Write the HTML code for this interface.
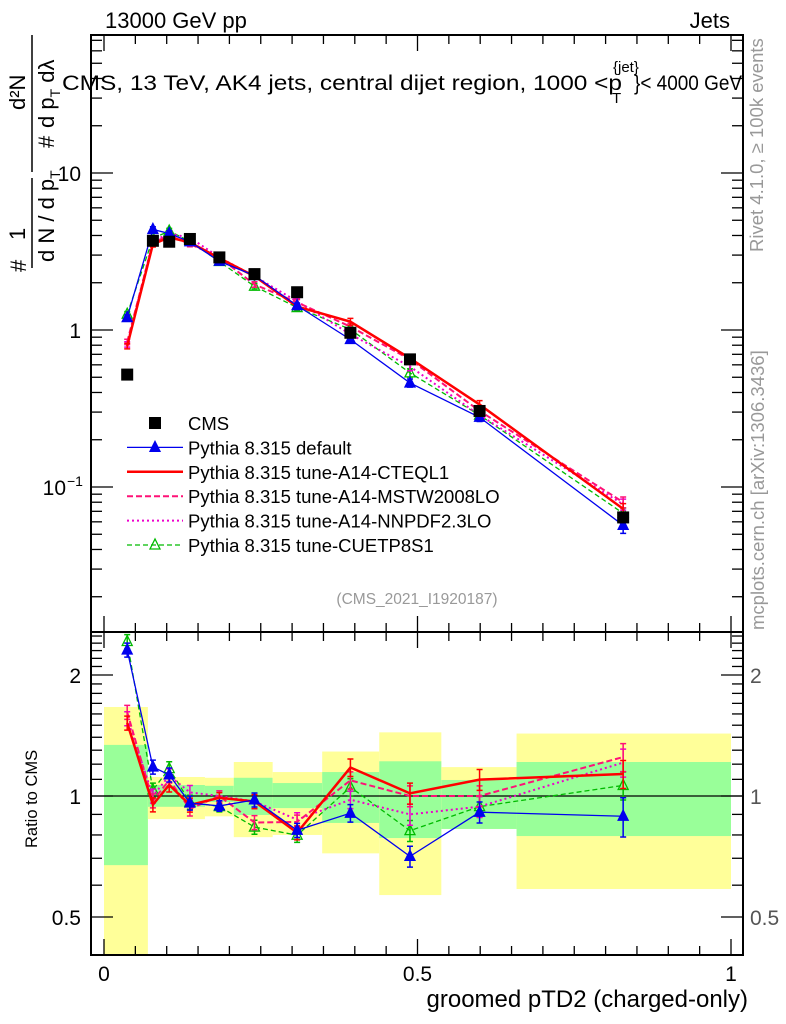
<!DOCTYPE html>
<html><head><meta charset="utf-8"><style>
html,body{margin:0;padding:0;background:#fff;}
svg{display:block;font-family:"Liberation Sans",Arial,sans-serif;}
</style></head><body>
<svg id="chart" width="786" height="1024" viewBox="0 0 786 1024" xmlns="http://www.w3.org/2000/svg">
<g id="bands"></g>
<g id="marks"></g>
<g id="axes"></g>
<text x="105" y="28" font-size="22">13000 GeV pp</text>
<text x="730" y="28" font-size="22" text-anchor="end">Jets</text>
<g>
<text x="62" y="90" font-size="21" textLength="560" lengthAdjust="spacingAndGlyphs">CMS, 13 TeV, AK4 jets, central dijet region, 1000 &lt;p</text>
<text x="613" y="72" font-size="15">{jet}</text>
<text x="612" y="103" font-size="15">T</text>
<text x="634" y="90" font-size="21" textLength="108" lengthAdjust="spacingAndGlyphs">}&lt; 4000 GeV</text>
</g>
<text x="417" y="604" font-size="15.5" fill="#999" text-anchor="middle">(CMS_2021_I1920187)</text>
<text transform="translate(763,252) rotate(-90)" font-size="18.5" fill="#999">Rivet 4.1.0, ≥ 100k events</text>
<text transform="translate(764,630) rotate(-90)" font-size="18.5" fill="#999">mcplots.cern.ch [arXiv:1306.3436]</text>
<g font-size="22">
<text transform="translate(26,272) rotate(-90)">#</text>
<text transform="translate(25,240) rotate(-90)">1</text>
<line x1="32" y1="268" x2="32" y2="178" stroke="#000" stroke-width="1.5"/>
<text transform="translate(54,262) rotate(-90)">d N / d p<tspan font-size="14" dy="6">T</tspan></text>
<text transform="translate(25,110) rotate(-90)">d²N</text>
<line x1="32" y1="172" x2="32" y2="35" stroke="#000" stroke-width="1.5"/>
<text transform="translate(54,148) rotate(-90)">#</text>
<text transform="translate(54,128) rotate(-90)">d p<tspan font-size="14" dy="6">T</tspan><tspan dy="-6"> dλ</tspan></text>
</g>
<text transform="translate(37,848) rotate(-90)" font-size="16.5">Ratio to CMS</text>
<text x="748" y="1007" font-size="24" text-anchor="end">groomed pTD2 (charged-only)</text>
<g font-size="18.5" id="legend"></g>
</svg>
<script>
const xs=[0.037,0.078,0.104,0.137,0.184,0.240,0.308,0.393,0.488,0.599,0.828];
const cmsVals=[0.52,3.7,3.65,3.8,2.9,2.27,1.74,0.96,0.65,0.305,0.064];
const defVals=[1.2,4.37,4.12,3.65,2.74,2.22,1.43,0.87,0.46,0.278,0.057];
const ctqVals=[0.79,3.52,3.89,3.61,2.87,2.2,1.41,1.13,0.66,0.335,0.0726];
const mstwVals=[0.84,3.6,4.0,3.53,2.9,1.95,1.5,1.05,0.65,0.305,0.08];
const nnpdfVals=[0.81,3.7,4.1,3.88,2.9,2.2,1.52,0.94,0.585,0.287,0.0775];
const cuetVals=[1.26,3.83,4.27,3.67,2.73,1.9,1.39,1.01,0.533,0.287,0.068];
const relErr=[0.04,0.04,0.04,0.04,0.03,0.04,0.04,0.05,0.06,0.06,0.08];
const binEdges=[0,0.070,0.161,0.207,0.269,0.348,0.439,0.538,0.658,1.0];
const yellowHi=[1.665,1.115,1.11,1.215,1.147,1.29,1.44,1.18,1.43];
const yellowLo=[0.3,0.876,0.89,0.79,0.80,0.72,0.567,0.828,0.587];
const greenHi=[1.34,1.065,1.06,1.11,1.077,1.147,1.22,1.096,1.215];
const greenLo=[0.673,0.94,0.966,0.897,0.933,0.857,0.786,0.828,0.795];
const xTicks=[0,0.5,1];
const xTickLabels=["0","0.5","1"];

const NS="http://www.w3.org/2000/svg";
const L=91,R=743,T=35,MID=632,B=955;
const X=v=>104+v*627;
const Y=v=>330-157*Math.log10(v);
const YR=v=>796-402*Math.log10(v);
function mk(tag,attrs,parent){const e=document.createElementNS(NS,tag);for(const k in attrs)e.setAttribute(k,attrs[k]);parent.appendChild(e);return e;}
const bands=document.getElementById('bands'),marks=document.getElementById('marks'),axes=document.getElementById('axes'),legend=document.getElementById('legend');
for(let i=0;i<yellowHi.length;i++){
 const x1=X(binEdges[i]),x2=X(binEdges[i+1]);
 const yt=Math.max(MID,YR(yellowHi[i])),yb=Math.min(B,YR(yellowLo[i]));
 const y=mk('rect',{x:x1,y:yt,width:x2-x1,height:yb-yt,fill:'#ffff99'},bands);
 
 
 const g=mk('rect',{x:x1,y:YR(greenHi[i]),width:x2-x1,height:YR(greenLo[i])-YR(greenHi[i]),fill:'#99ff99'},bands);
 
 
}
const ref=mk('line',{x1:L,x2:R,y1:YR(1),y2:YR(1),stroke:'#000','stroke-width':1.3},marks);


const series=[
 {vals:cuetVals,color:'#00bb00',w:1.3,dash:'5,3',marker:'otri',name:'Pythia 8.315 tune-CUETP8S1',key:'cuetp8s1'},
 {vals:nnpdfVals,color:'#ee00cc',w:2,dash:'2,3',marker:'none',name:'Pythia 8.315 tune-A14-NNPDF2.3LO',key:'nnpdf'},
 {vals:mstwVals,color:'#ff1177',w:2,dash:'6,3',marker:'none',name:'Pythia 8.315 tune-A14-MSTW2008LO',key:'mstw'},
 {vals:ctqVals,color:'#ff0000',w:2.5,dash:'',marker:'none',name:'Pythia 8.315 tune-A14-CTEQL1',key:'cteql1'},
 {vals:defVals,color:'#0000ee',w:1.3,dash:'',marker:'tri',name:'Pythia 8.315 default',key:'default'}
];
function tri(p,x,y,c,open,name){const t=mk('polygon',{points:`${x},${y-6} ${x-5},${y+4} ${x+5},${y+4}`,fill:open?'none':c,stroke:c,'stroke-width':1.3},p);
 
 }
function drawSeries(parent,s,Yf,ratio){
 const g=mk('g',{},parent);
 
 
 const pts=xs.map((x,i)=>{const v=ratio?s.vals[i]/cmsVals[i]:s.vals[i];return [X(x),Yf(v),v];});
 const pl=mk('polyline',{points:pts.map(p=>p[0]+','+p[1]).join(' '),fill:'none',stroke:s.color,'stroke-width':s.w,'stroke-dasharray':s.dash},g);
 
 
 pts.forEach((p,i)=>{
  const e=relErr[i]*(s.key==='default'&&i==10?1.4:1);
  const y1=Yf(p[2]*(1+e)),y2=Yf(p[2]*(1-e));
  const eb=mk('path',{d:`M${p[0]},${y1}V${y2}M${p[0]-3},${y1}h6M${p[0]-3},${y2}h6`,stroke:s.color,'stroke-width':1.5,fill:'none'},g);
  
  
  if(s.marker==='tri')tri(g,p[0],p[1],s.color,false,'point');
  if(s.marker==='otri')tri(g,p[0],p[1],s.color,true,'point');
 });
}
series.forEach(s=>drawSeries(marks,s,Y,false));
xs.forEach((x,i)=>{const r=mk('rect',{x:X(x)-6,y:Y(cmsVals[i])-6,width:12,height:12,fill:'#000'},marks);
 
 });
const defs=mk('defs',{},marks);
const clip=mk('clipPath',{id:'rc'},defs);mk('rect',{x:L,y:MID,width:R-L,height:B-MID},clip);
const rg=mk('g',{'clip-path':'url(#rc)'},marks);
series.forEach(s=>drawSeries(rg,s,YR,true));
mk('rect',{x:L,y:T,width:R-L,height:MID-T,fill:'none',stroke:'#000','stroke-width':2},axes);
mk('rect',{x:L,y:MID,width:R-L,height:B-MID,fill:'none',stroke:'#000','stroke-width':2},axes);
for(let k=0;k<=20;k++){const v=k*0.05,x=X(v),len=(k%10===0)?16:9;
 mk('line',{x1:x,x2:x,y1:B,y2:B-len,stroke:'#000','stroke-width':1.3},axes);
 mk('line',{x1:x,x2:x,y1:MID,y2:MID+len,stroke:'#000','stroke-width':1.3},axes);
 mk('line',{x1:x,x2:x,y1:T,y2:T+len,stroke:'#000','stroke-width':1.3},axes);
 mk('line',{x1:x,x2:x,y1:MID,y2:MID-len,stroke:'#000','stroke-width':1.3},axes);}
xTicks.forEach((v,i)=>{const t=mk('text',{x:X(v),y:981,'font-size':21,'text-anchor':'middle'},axes);t.textContent=xTickLabels[i];
 
 });
for(let d=-2;d<=1;d++)for(let m=1;m<=9;m++){const v=m*Math.pow(10,d),y=Y(v);if(y<T||y>MID)continue;const len=m===1?22:11;
 mk('line',{x1:L,x2:L+len,y1:y,y2:y,stroke:'#000','stroke-width':1.3},axes);
 mk('line',{x1:R,x2:R-len,y1:y,y2:y,stroke:'#000','stroke-width':1.3},axes);}
[[10,'10'],[1,'1']].forEach(([v,s])=>{const t=mk('text',{x:81,y:Y(v)+8,'font-size':21,'text-anchor':'end'},axes);t.textContent=s;
 
 });
{const t=mk('text',{x:66,y:Y(0.1)+8,'font-size':21,'text-anchor':'end'},axes);t.textContent='10';
 
 
 const s=mk('text',{x:67,y:Y(0.1)-1,'font-size':14},axes);s.textContent='−1';}
for(let k=4;k<=25;k++){const v=k/10,y=YR(v);if(y<MID||y>B)continue;const major=(k===5||k===10||k===20);const len=major?22:11;
 mk('line',{x1:L,x2:L+len,y1:y,y2:y,stroke:'#000','stroke-width':1.3},axes);
 mk('line',{x1:R,x2:R-len,y1:y,y2:y,stroke:'#000','stroke-width':1.3},axes);}
[[2,'2'],[1,'1'],[0.5,'0.5']].forEach(([v,s])=>{
 const t=mk('text',{x:81,y:YR(v)+8,'font-size':21,'text-anchor':'end'},axes);t.textContent=s;
 
 
 const t2=mk('text',{x:750,y:YR(v)+8,'font-size':21,fill:'#555'},axes);t2.textContent=s;
 
 });
const leg=[{name:'CMS',type:'sq'}].concat(series.slice().reverse());
leg.forEach((s,i)=>{const y=423+i*24.4;const g=mk('g',{},legend);
 
 
 if(s.type==='sq'){mk('rect',{x:149,y:y-6,width:12,height:12,fill:'#000'},g);}
 else{mk('line',{x1:127,x2:183,y1:y,y2:y,stroke:s.color,'stroke-width':s.w,'stroke-dasharray':s.dash},g);
  if(s.marker==='tri')tri(g,155,y,s.color,false,'legend-marker');
  if(s.marker==='otri')tri(g,155,y,s.color,true,'legend-marker');}
 const t=mk('text',{x:188,y:y+7},g);t.textContent=s.name;});
</script>
</body></html>
